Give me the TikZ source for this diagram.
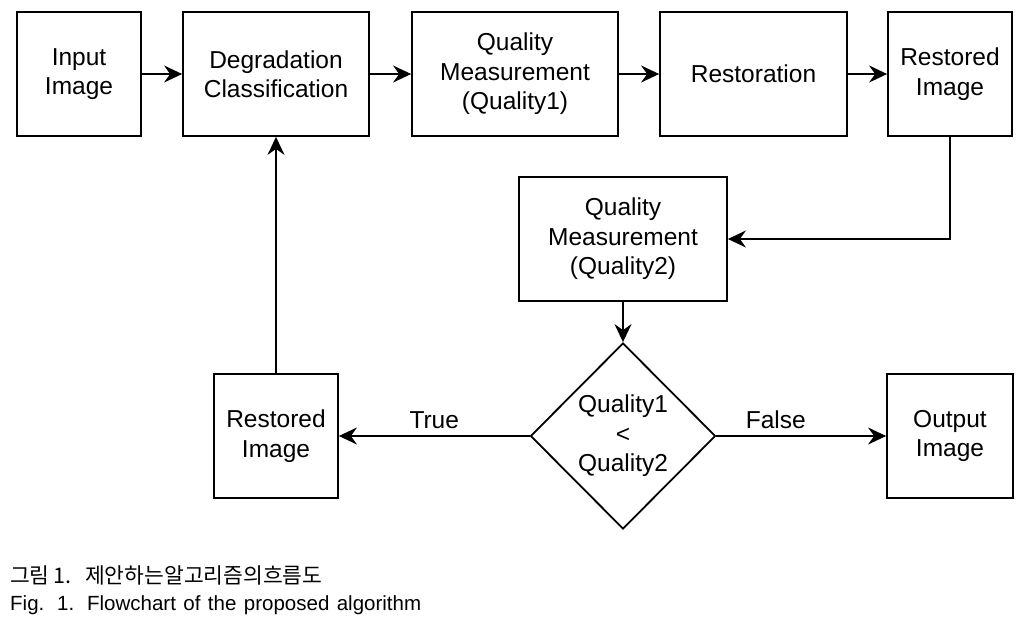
\documentclass[tikz,border=0pt]{standalone}
\usepackage{fontspec}
\setmainfont{Liberation Sans}
\newfontfamily\cjk{Noto Sans CJK KR}
\usetikzlibrary{arrows.meta,shapes.geometric}
\tikzset{
  box/.style={draw=black, line width=1.8pt, rectangle, align=center, inner sep=0pt,
    minimum height=124pt, font=\fontsize{24.5pt}{29.5pt}\selectfont},
  decision/.style={draw=black, line width=1.8pt, diamond, align=center, inner sep=0pt,
    minimum width=185pt, minimum height=186pt, font=\fontsize{24.5pt}{29.5pt}\selectfont},
  arr/.style={line width=1.8pt, -{Stealth[length=18pt,width=17pt,inset=6pt]}},
  lbl/.style={font=\fontsize{24.5pt}{29.5pt}\selectfont, inner sep=0pt},
  captext/.style={anchor=west, inner sep=0pt}
}
\begin{document}
\begin{tikzpicture}[x=1pt,y=-1pt]
\useasboundingbox (0,0) rectangle (1033,622);
\node[box, minimum width=124pt] (in) at (79,74) {Input\\Image};
\node[box, minimum width=186pt] (deg) at (276,74) {Degradation\\Classification};
\node[box, minimum width=206pt] (q1) at (515,74) {Quality\\Measurement\\(Quality1)};
\node[box, minimum width=187pt] (rest) at (753.5,74) {Restoration};
\node[box, minimum width=124pt] (rimg) at (950,74) {Restored\\Image};
\node[box, minimum width=208pt] (q2) at (623,239) {Quality\\Measurement\\(Quality2)};
\node[decision] (dia) at (623,436) {Quality1\\<\\Quality2};
\node[box, minimum width=124pt] (rimg2) at (276,436) {Restored\\Image};
\node[box, minimum width=126pt] (out) at (950,436) {Output\\Image};

\draw[arr] (in) -- (deg);
\draw[arr] (deg) -- (q1);
\draw[arr] (q1) -- (rest);
\draw[arr] (rest) -- (rimg);
\draw[arr] (rimg.south) |- (q2.east);
\draw[arr] (q2) -- (dia);
\draw[arr] (dia.west) -- node[lbl, pos=0.5, above=6pt] (tlab) {True} (rimg2.east);
\draw[arr] (dia.east) -- node[lbl, pos=0.35, above=6pt] (flab) {False} (out.west);
\draw[arr] (rimg2) -- (deg);

\node[captext] (kcap) at (10,575) {\fontsize{21.5pt}{24pt}\selectfont\makebox[75pt][l]{\cjk 그림\,1.}\cjk 제안하는알고리즘의흐름도};
\node[captext] (ecap) at (10,605) {\fontsize{20.5pt}{24pt}\selectfont\makebox[411pt][s]{Fig. 1. Flowchart of the proposed algorithm}};
\end{tikzpicture}
\end{document}
